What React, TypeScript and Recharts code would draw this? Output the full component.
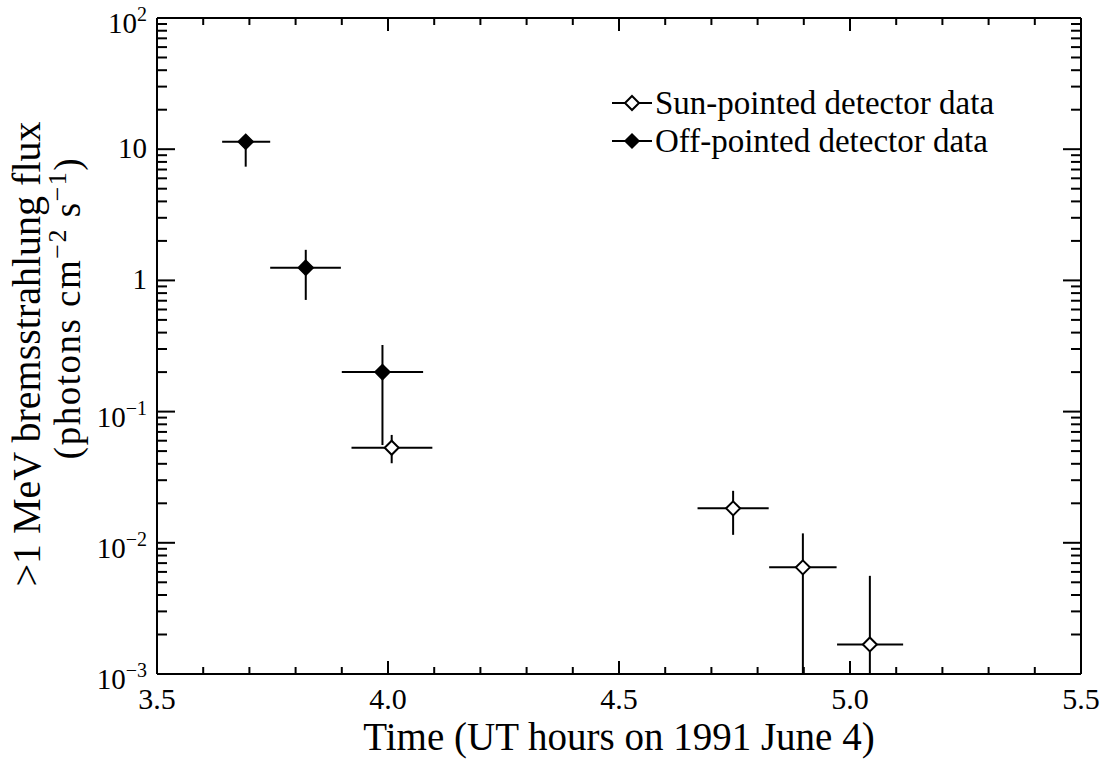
import React from 'react';
import { ScatterChart, Scatter, XAxis, YAxis, ErrorBar, Legend } from 'recharts';

const FONT = '"Liberation Serif", "Times New Roman", Times, serif';

// ---- Data ----
const offX = [3.692, 3.822, 3.988];
const offY = [11.4, 1.25, 0.2];
const offXLow = [3.641, 3.745, 3.9];
const offXHigh = [3.745, 3.898, 4.076];
const offYLow = [7.36, 0.71, 0.0556];
const offYHigh = [12.5, 1.71, 0.322];

const sunX = [4.008, 4.747, 4.898, 5.043];
const sunY = [0.053, 0.0183, 0.0065, 0.00168];
const sunXLow = [3.921, 4.67, 4.825, 4.972];
const sunXHigh = [4.096, 4.824, 4.971, 5.115];
const sunYLow = [0.0404, 0.0115, 0.001, 0.001];
const sunYHigh = [0.0664, 0.0249, 0.0118, 0.0056];

// ---- Ticks ----
const xTicks = [3.5, 3.6, 3.7, 3.8, 3.9, 4.0, 4.1, 4.2, 4.3, 4.4, 4.5, 4.6, 4.7, 4.8, 4.9, 5.0, 5.1, 5.2, 5.3, 5.4, 5.5];
const xMajorTicks = [3.5, 4.0, 4.5, 5.0, 5.5];
const xMajorLabels = ['3.5', '4.0', '4.5', '5.0', '5.5'];

const yMajorValues = [0.001, 0.01, 0.1, 1, 10, 100];
const yMajorBase = ['10', '10', '10', '1', '10', '10'];
const yMajorExp = ['\u22123', '\u22122', '\u22121', '', '', '2'];
const yMinorMultipliers = [2, 3, 4, 5, 6, 7, 8, 9];

const yTicks: number[] = [];
yMajorValues.forEach((d, i) => {
  yTicks.push(d);
  if (i < yMajorValues.length - 1) yMinorMultipliers.forEach((m) => yTicks.push(+(m * d).toPrecision(6)));
});

const legendNames = ['Sun-pointed detector data', 'Off-pointed detector data'];

const offData = offX.map((x, i) => ({
  x,
  y: offY[i],
  ex: [x - offXLow[i], offXHigh[i] - x],
  ey: [offY[i] - offYLow[i], offYHigh[i] - offY[i]],
}));
const sunData = sunX.map((x, i) => ({
  x,
  y: sunY[i],
  ex: [x - sunXLow[i], sunXHigh[i] - x],
  ey: [sunY[i] - sunYLow[i], sunYHigh[i] - sunY[i]],
}));

const xMajorIndex = (v: number) => xMajorTicks.findIndex((t) => Math.abs(t - v) < 1e-6);
const yMajorIndex = (v: number) => yMajorValues.findIndex((t) => Math.abs(t - v) / t < 1e-6);

const BottomTick = (props: any) => {
  const { x, y, payload } = props;
  const idx = xMajorIndex(payload.value);
  const major = idx >= 0;
  return (
    <g>
      <line x1={x} x2={x} y1={y} y2={y - (major ? 13 : 7)} stroke="#000" strokeWidth={2} />
      {major && (
        <text x={x} y={y + 35} textAnchor="middle" fontFamily={FONT} fontSize={30} fill="#000">
          {xMajorLabels[idx]}
        </text>
      )}
    </g>
  );
};

const TopTick = (props: any) => {
  const { x, y, payload } = props;
  const major = xMajorIndex(payload.value) >= 0;
  return <line x1={x} x2={x} y1={y} y2={y + (major ? 13 : 7)} stroke="#000" strokeWidth={2} />;
};

const LeftTick = (props: any) => {
  const { x, y, payload } = props;
  const idx = yMajorIndex(payload.value);
  const major = idx >= 0;
  const exp = major ? yMajorExp[idx] : '';
  return (
    <g>
      <line x1={x} x2={x + (major ? 18 : 10)} y1={y} y2={y} stroke="#000" strokeWidth={2} />
      {major && (
        <text x={x - 10} y={y + (exp ? 15 : 9)} textAnchor="end" fontFamily={FONT} fontSize={29} fill="#000">
          {yMajorBase[idx]}
          {exp && (
            <tspan fontSize={20} dy={-12}>
              {exp}
            </tspan>
          )}
        </text>
      )}
    </g>
  );
};

const RightTick = (props: any) => {
  const { x, y, payload } = props;
  const major = yMajorIndex(payload.value) >= 0;
  return <line x1={x} x2={x - (major ? 18 : 10)} y1={y} y2={y} stroke="#000" strokeWidth={2} />;
};

const diamondPoints = (cx: number, cy: number, r: number) =>
  `${cx},${cy - r} ${cx + r},${cy} ${cx},${cy + r} ${cx - r},${cy}`;

const FilledDiamond = (props: any) => {
  const { cx, cy } = props;
  return <polygon points={diamondPoints(cx, cy, 7.5)} fill="#000" stroke="#000" strokeWidth={1.5} />;
};
const OpenDiamond = (props: any) => {
  const { cx, cy } = props;
  return <polygon points={diamondPoints(cx, cy, 7)} fill="#fff" stroke="#000" strokeWidth={2} />;
};

const renderLegend = () => (
  <div style={{ fontFamily: FONT, fontSize: 33, color: '#000' }}>
    {legendNames.map((name, i) => (
      <div key={name} style={{ display: 'flex', alignItems: 'center', height: 38, lineHeight: '38px', whiteSpace: 'nowrap' }}>
        <svg width={40} height={20} style={{ display: 'block' }}>
          <line x1={0} x2={40} y1={10} y2={10} stroke="#000" strokeWidth={2} />
          <polygon
            points={diamondPoints(20, 10, 7)}
            fill={i === 0 ? '#fff' : '#000'}
            stroke="#000"
            strokeWidth={i === 0 ? 2 : 1.5}
          />
        </svg>
        <span style={{ marginLeft: 3 }}>{name}</span>
      </div>
    ))}
  </div>
);

const renderYTitle = () => {
  const x1 = 40;
  const cy1 = 354;
  const x2 = 80;
  const cy2 = 308;
  return (
    <g>
      <text
        x={x1}
        y={cy1}
        transform={`rotate(-90, ${x1}, ${cy1})`}
        textAnchor="middle"
        fontFamily={FONT}
        fontSize={40}
        fill="#000"
      >
        {'>1 MeV bremsstrahlung flux'}
      </text>
      <text
        x={x2}
        y={cy2}
        transform={`rotate(-90, ${x2}, ${cy2})`}
        textAnchor="middle"
        fontFamily={FONT}
        fontSize={37}
        letterSpacing={1.5}
        fill="#000"
      >
        <tspan>(photons cm</tspan>
        <tspan fontSize={26} dy={-14}>{'\u22122'}</tspan>
        <tspan dy={14}> s</tspan>
        <tspan fontSize={26} dy={-14}>{'\u22121'}</tspan>
        <tspan dy={14}>)</tspan>
      </text>
    </g>
  );
};

const renderXTitle = (props: any) => {
  const vb = props.viewBox || {};
  const cx = (vb.x ?? 157) + (vb.width ?? 924) / 2;
  return (
    <text x={cx} y={750} textAnchor="middle" fontFamily={FONT} fontSize={39} fill="#000">
      Time (UT hours on 1991 June 4)
    </text>
  );
};

export default function App() {
  return (
    <div style={{ position: 'absolute', left: 0, top: 0, width: 1108, height: 763, background: '#fff' }}>
      <ScatterChart width={1108} height={763} margin={{ top: 17, right: 26, bottom: 88, left: 156 }}>
        <XAxis
          xAxisId={0}
          type="number"
          dataKey="x"
          domain={[3.5, 5.5]}
          allowDataOverflow
          ticks={xTicks}
          interval={0}
          height={1}
          tickSize={0}
          tickMargin={0}
          tickLine={false}
          axisLine={{ stroke: '#000', strokeWidth: 2 }}
          tick={<BottomTick />}
          label={renderXTitle}
        />
        <XAxis
          xAxisId="top"
          orientation="top"
          type="number"
          dataKey="x"
          domain={[3.5, 5.5]}
          allowDataOverflow
          ticks={xTicks}
          interval={0}
          height={1}
          tickSize={0}
          tickMargin={0}
          tickLine={false}
          axisLine={{ stroke: '#000', strokeWidth: 2 }}
          tick={<TopTick />}
        />
        <YAxis
          yAxisId={0}
          type="number"
          dataKey="y"
          scale="log"
          domain={[0.001, 100]}
          allowDataOverflow
          ticks={yTicks}
          interval={0}
          width={1}
          tickSize={0}
          tickMargin={0}
          tickLine={false}
          axisLine={{ stroke: '#000', strokeWidth: 2 }}
          tick={<LeftTick />}
          label={renderYTitle}
        />
        <YAxis
          yAxisId="right"
          orientation="right"
          type="number"
          dataKey="y"
          scale="log"
          domain={[0.001, 100]}
          allowDataOverflow
          ticks={yTicks}
          interval={0}
          width={1}
          tickSize={0}
          tickMargin={0}
          tickLine={false}
          axisLine={{ stroke: '#000', strokeWidth: 2 }}
          tick={<RightTick />}
        />
        <Legend
          layout="vertical"
          align="center"
          verticalAlign="middle"
          content={renderLegend}
          wrapperStyle={{ left: 612, top: 84, width: 440 }}
        />
        <Scatter
          name="Off-pointed detector data"
          data={offData}
          xAxisId={0}
          yAxisId={0}
          shape={<FilledDiamond />}
          isAnimationActive={false}
        >
          <ErrorBar dataKey="ex" direction="x" width={0} stroke="#000" strokeWidth={2} isAnimationActive={false} />
          <ErrorBar dataKey="ey" direction="y" width={0} stroke="#000" strokeWidth={2} isAnimationActive={false} />
        </Scatter>
        <Scatter
          name="Sun-pointed detector data"
          data={sunData}
          xAxisId={0}
          yAxisId={0}
          shape={<OpenDiamond />}
          isAnimationActive={false}
        >
          <ErrorBar dataKey="ex" direction="x" width={0} stroke="#000" strokeWidth={2} isAnimationActive={false} />
          <ErrorBar dataKey="ey" direction="y" width={0} stroke="#000" strokeWidth={2} isAnimationActive={false} />
        </Scatter>
      </ScatterChart>
    </div>
  );
}
